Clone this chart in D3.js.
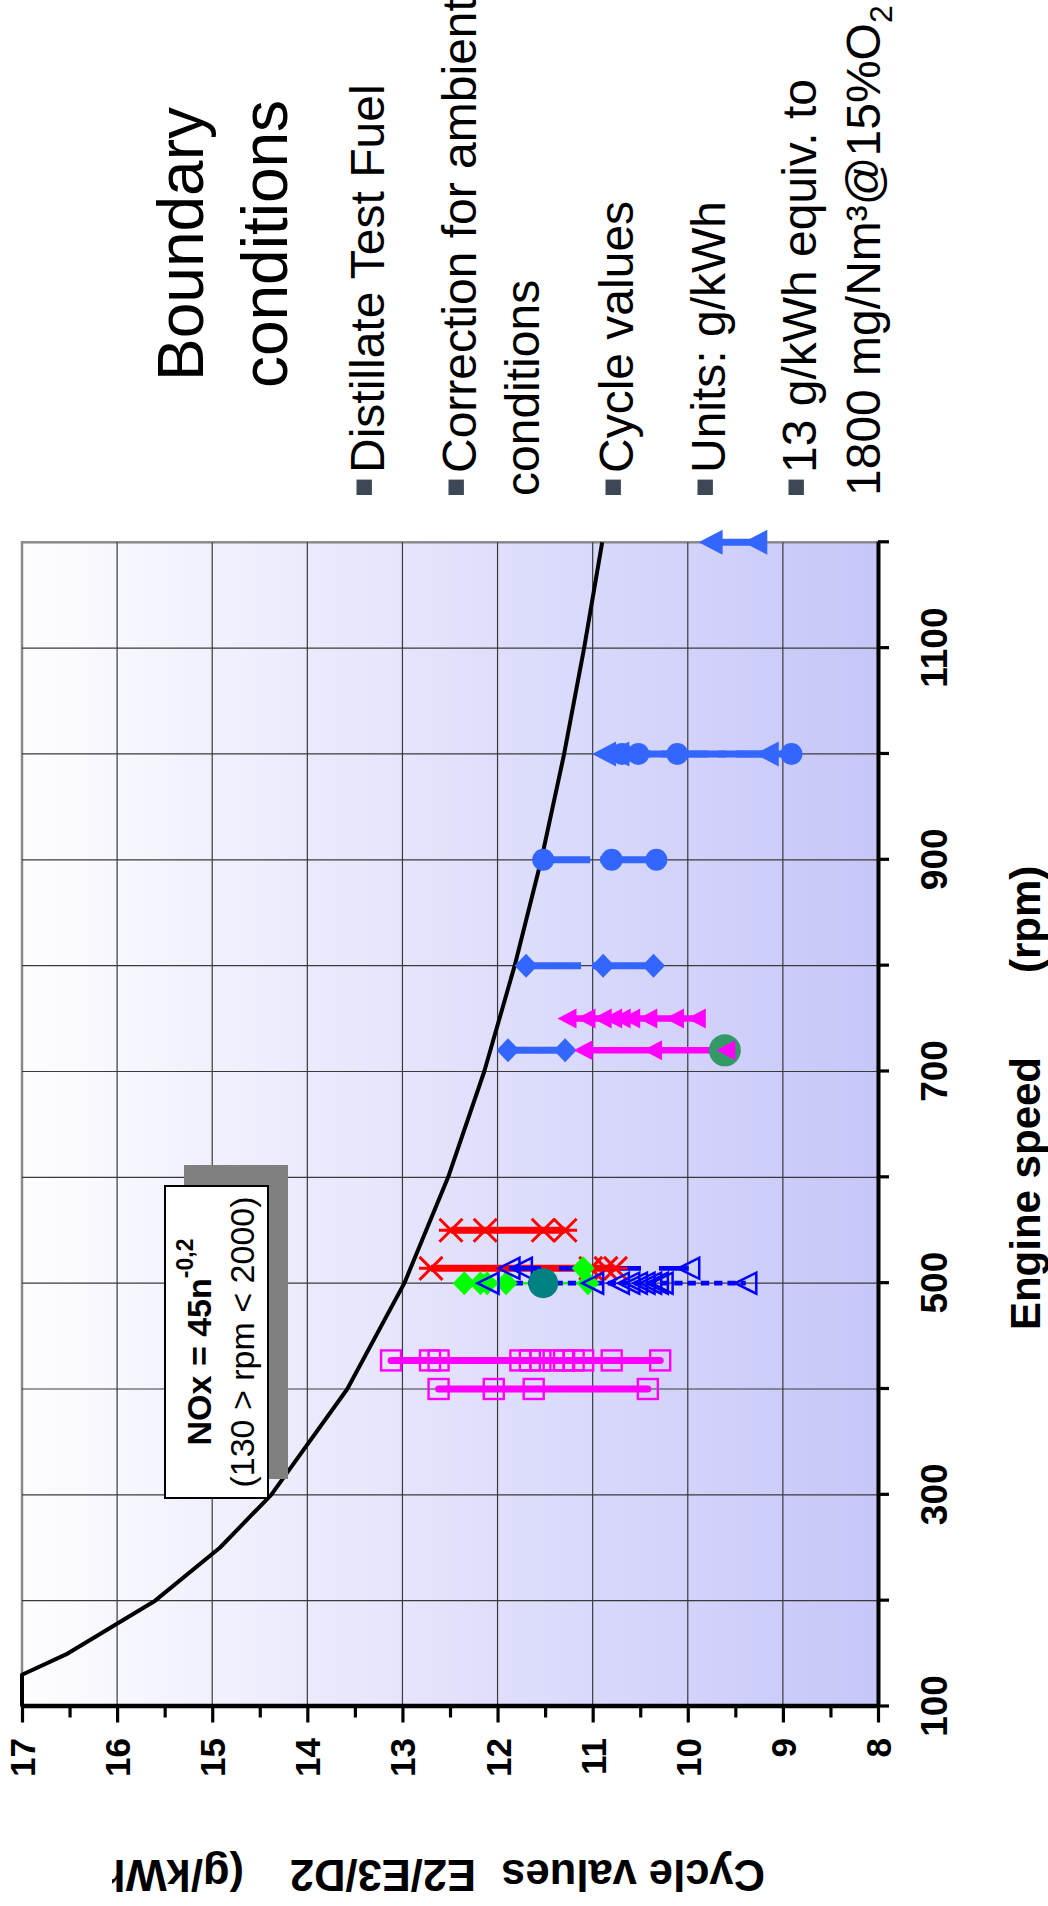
<!DOCTYPE html>
<html><head><meta charset="utf-8">
<script src="https://cdn.jsdelivr.net/npm/d3@7"></script>
<style>
html,body{margin:0;padding:0;background:#fff;}
svg{display:block;}
text{font-family:"Liberation Sans",Arial,Helvetica,sans-serif;}
</style></head><body>
<script>
// ---------------- DATA ----------------
const rpmTicks = [100,200,300,400,500,600,700,800,900,1000,1100,1200];
const rpmTickLabels = [100,300,500,700,900,1100];
const valueTicks = [8,8.5,9,9.5,10,10.5,11,11.5,12,12.5,13,13.5,14,14.5,15,15.5,16,16.5,17];
const valueTickLabels = [8,9,10,11,12,13,14,15,16,17];

// limit curve NOx = 45 n^-0.2
const curveRpm = [100,130,150,200,250,300,400,500,600,700,800,900,1000,1100,1200];
const curveNox = [17.0,17.0,16.52,15.60,14.92,14.38,13.58,12.98,12.52,12.14,11.82,11.54,11.30,11.09,10.90];

// engine groups: rated speed and cycle values
const magentaSquares400 = [12.62,12.04,11.62,10.42];
const magentaSquares427 = [13.12,12.71,12.62,11.76,11.66,11.55,11.41,11.30,11.20,11.10,10.80,10.29];
const redStars550 = [12.49,12.13,11.52,11.29];
const redStars514 = [12.70,11.02,10.86,10.76];
const greenDiamonds500 = [12.35,12.18,12.11,11.91,11.05];
const greenDiamonds514 = [11.10];
const blueOpenTri500 = [12.10,11.00,10.73,10.62,10.54,10.46,10.39,10.32,10.27,9.39];
const blueOpenTri514 = [11.88,11.75,9.99];
const tealCircle500 = [11.52];
const blueDiamonds720 = [11.89,11.29];
const blueDiamonds800 = [11.70,10.89,10.36];
const greenCircle720 = [9.61];
const magentaTri750 = [11.27,11.07,10.90,10.79,10.70,10.60,10.42,10.14,9.91];
const magentaTri720 = [11.10,10.37,9.60];
const blueCircles900 = [11.52,10.80,10.33];
const blueCircles1000 = [10.69,10.52,10.11,8.91];
const blueTri1000 = [10.88,10.74,9.17];
const blueTri1200 = [9.76,9.29];

const legendTitle = ["Boundary","conditions"];
const legendLines = ["Distillate Test Fuel","Correction for ambient","conditions","Cycle values","Units: g/kWh","13 g/kWh equiv. to","1800 mg/Nm\u00B3@15%O"];
const legendBullet = [true,true,false,true,true,true,false];
const xTitle = ["Engine speed","(rpm)"];
const yTitle = ["Cycle values","E2/E3/D2","(g/kWh"];

// ---------------- LAYOUT ----------------
const W = 1048, H = 1906;
const svg = d3.select("body").append("svg").attr("width", W).attr("height", H);
const defs = svg.append("defs");
const grad = defs.append("linearGradient").attr("id","bg").attr("x1",0).attr("y1",0).attr("x2",0).attr("y2",1);
grad.append("stop").attr("offset","0%").attr("stop-color","#fdfdff");
grad.append("stop").attr("offset","100%").attr("stop-color","#c6c6f9");
defs.append("clipPath").attr("id","ytclip").append("rect")
  .attr("x",-200).attr("y",112).attr("width",600).attr("height",1000);

// the whole chart is built in its unrotated frame and turned 90deg counter-clockwise
const g = svg.append("g").attr("transform", `translate(0,${H}) rotate(-90)`);

const x = d3.scaleLinear().domain([100,1200]).range([199.5,1363.7]);
const y = d3.scaleLinear().domain([8,17]).range([878,22]);

// plot background
g.append("rect").attr("x", x(100)).attr("y", y(17))
  .attr("width", x(1200)-x(100)).attr("height", y(8)-y(17))
  .attr("fill","url(#bg)").attr("stroke","#8a8a8a").attr("stroke-width",2.5);

// grid
g.append("g").selectAll("line").data(valueTicks.filter(v=>Number.isInteger(v) && v>8 && v<17))
  .join("line").attr("x1",x(100)).attr("x2",x(1200)).attr("y1",d=>y(d)).attr("y2",d=>y(d))
  .attr("stroke","#3a3a3a").attr("stroke-width",1.2);
g.append("g").selectAll("line").data(rpmTicks.filter(v=>v>100 && v<1200))
  .join("line").attr("y1",y(17)).attr("y2",y(8)).attr("x1",d=>x(d)).attr("x2",d=>x(d))
  .attr("stroke","#3a3a3a").attr("stroke-width",1.2);

// limit curve
const line = d3.line().x(d=>x(d[0])).y(d=>y(d[1]));
g.append("path").datum(curveRpm.map((r,i)=>[r,curveNox[i]]))
  .attr("d", line).attr("fill","none").attr("stroke","#000").attr("stroke-width",4)
  .attr("stroke-linejoin","round");

// series definitions (styles)
const BLUE = "#3366ff";
const groups = [
  {rpm:400, vals:magentaSquares400, m:"square", c:"#ff00ff", lw:7, cap:"round"},
  {rpm:427, vals:magentaSquares427, m:"square", c:"#ff00ff", lw:7, cap:"round"},
  {rpm:550, vals:redStars550, m:"star", c:"#ff0000", lw:7},
  {rpm:514, vals:redStars514, m:"star", c:"#ff0000", lw:7},
  {rpm:500, vals:greenDiamonds500, m:"diamond", c:"#00ff00", lw:2.5},
  {rpm:514, vals:greenDiamonds514, m:"diamond", c:"#00ff00", lw:2.5},
  {rpm:500, vals:blueOpenTri500, m:"otri", c:"#0000ff", lw:4.7, dash:"8.3,5"},
  {rpm:514, vals:blueOpenTri514, m:"otri", c:"#0000ff", lw:4.7, dash:"32,18"},
  {rpm:500, vals:tealCircle500, m:"circle", c:"#008080", r:15},
  {rpm:720, vals:blueDiamonds720, m:"diamond", c:BLUE, lw:7, dash:"55,11"},
  {rpm:800, vals:blueDiamonds800, m:"diamond", c:BLUE, lw:7, dash:"55,11"},
  {rpm:720, vals:greenCircle720, m:"circle", c:"#339966", r:16},
  {rpm:750, vals:magentaTri750, m:"tri", c:"#ff00ff", lw:6.5, tb:20, th:19},
  {rpm:720, vals:magentaTri720, m:"tri", c:"#ff00ff", lw:6.5, tb:20, th:19},
  {rpm:900, vals:blueCircles900, m:"circle", c:BLUE, r:11, lw:7, dash:"47,10"},
  {rpm:1000, vals:blueCircles1000, m:"circle", c:BLUE, r:11, lw:7, dash:"47,10"},
  {rpm:1000, vals:blueTri1000, m:"tri", c:BLUE, lw:7, dash:"47,10", tb:25, th:24},
  {rpm:1200, vals:blueTri1200, m:"tri", c:BLUE, lw:7, dash:"47,10", tb:25, th:24}
];

// lines first (all series), then markers
const linesG = g.append("g");
groups.filter(s=>s.vals.length>1).forEach(s=>{
  linesG.append("path").datum(s.vals.map(v=>[s.rpm,v])).attr("d", line)
    .attr("fill","none").attr("stroke", s.c).attr("stroke-width", s.lw)
    .attr("stroke-linecap", s.cap || "butt")
    .attr("stroke-dasharray", s.dash || null);
});

const markG = g.append("g");
groups.forEach(s=>{
  const sel = markG.append("g").selectAll("g").data(s.vals).join("g")
    .attr("transform", d=>`translate(${x(s.rpm)},${y(d)})`);
  if (s.m==="square") {
    sel.append("rect").attr("x",-10).attr("y",-10).attr("width",20).attr("height",20)
      .attr("fill","none").attr("stroke",s.c).attr("stroke-width",2.4);
  } else if (s.m==="star") {
    sel.append("path").attr("d","M-11.5,-11.5L11.5,11.5M-11.5,11.5L11.5,-11.5M0,-12V12")
      .attr("fill","none").attr("stroke",s.c).attr("stroke-width",3);
  } else if (s.m==="diamond") {
    sel.append("path").attr("d","M0,-11.5L12,0L0,11.5L-12,0Z").attr("fill",s.c);
  } else if (s.m==="otri") {
    sel.append("path").attr("d","M0,-10.5L10.5,10.5L-10.5,10.5Z")
      .attr("fill","none").attr("stroke",s.c).attr("stroke-width",2.5).attr("stroke-linejoin","miter");
  } else if (s.m==="tri") {
    const b=s.tb/2, h=s.th/2;
    sel.append("path").attr("d",`M0,${-h}L${b},${h}L${-b},${h}Z`).attr("fill",s.c);
  } else if (s.m==="circle") {
    sel.append("circle").attr("r",s.r).attr("fill",s.c);
  }
});

// NOx annotation box
const bx = 408, by = 165, bw = 312, bh = 103;
g.append("rect").attr("x",bx+19).attr("y",by+19).attr("width",bw+2).attr("height",bh+1).attr("fill","#808080");
g.append("rect").attr("x",bx).attr("y",by).attr("width",bw).attr("height",bh)
  .attr("fill","#fff").attr("stroke","#000").attr("stroke-width",2);
const t1 = g.append("text").attr("x",bx+bw/2).attr("y",211).attr("text-anchor","middle")
  .attr("font-size",34).attr("font-weight","bold").attr("fill","#000");
t1.append("tspan").text("NOx = 45n");
t1.append("tspan").attr("dy",-18).attr("font-size",23).text("-0,2");
g.append("text").attr("x",bx+bw/2).attr("y",254).attr("text-anchor","middle")
  .attr("font-size",34).attr("fill","#000").text("(130 > rpm < 2000)");

// axes
const xAxis = d3.axisBottom(x).tickValues(rpmTicks).tickSize(11).tickSizeOuter(0)
  .tickFormat(d => rpmTickLabels.includes(d) ? d : "");
g.append("g").attr("transform",`translate(0,${y(8)})`).call(xAxis)
  .call(a=>a.select(".domain").attr("stroke","#000").attr("stroke-width",4))
  .call(a=>a.selectAll(".tick line").attr("stroke","#000").attr("stroke-width",3.2))
  .call(a=>a.selectAll(".tick text").attr("y",69).attr("dy",0).attr("font-size",37)
      .attr("font-weight","bold").attr("fill","#000"));

const yAxis = d3.axisLeft(y).tickValues(valueTicks).tickSize(16).tickSizeOuter(0)
  .tickFormat(d => valueTickLabels.includes(d) ? d : "");
g.append("g").attr("transform",`translate(${x(100)},0)`).call(yAxis)
  .call(a=>a.select(".domain").attr("stroke","#000").attr("stroke-width",4.5))
  .call(a=>a.selectAll(".tick line").attr("stroke","#000").attr("stroke-width",3.2)
      .attr("x2", d => Number.isInteger(d) ? -16 : -11))
  .call(a=>a.selectAll(".tick text").attr("x",-31.5).attr("dy",0).attr("y",12.5)
      .attr("font-size",35).attr("font-weight","bold").attr("fill","#000"));

// axis titles
g.append("text").attr("x",849).attr("y",1040).attr("text-anchor","end")
  .attr("font-size",42).attr("font-weight","bold").attr("fill","#000").text(xTitle[0]);
g.append("text").attr("x",933).attr("y",1040).attr("text-anchor","start")
  .attr("font-size",42).attr("font-weight","bold").attr("fill","#000").text(xTitle[1]);

const yt = g.append("g").attr("clip-path","url(#ytclip)");
const ytStarts = [765, 476, 244];
yTitle.forEach((t,i)=>{
  yt.append("text").attr("transform",`translate(46,${ytStarts[i]}) rotate(-90)`)
    .attr("font-size",43.5).attr("font-weight","bold").attr("fill","#000").text(t);
});

// legend / boundary conditions text
const titleBase = [203, 287];
legendTitle.forEach((t,i)=>{
  g.append("text").attr("x",1662).attr("y",titleBase[i]).attr("text-anchor","middle")
    .attr("font-size",64).attr("fill","#000").text(t);
});
const lineBase = [384, 476, 539, 633, 725, 816, 880];
legendLines.forEach((t,i)=>{
  if (legendBullet[i]) {
    g.append("rect").attr("x",1411).attr("y",lineBase[i]-27.5).attr("width",15.4).attr("height",15.4)
      .attr("fill","#3d4756");
  }
  const tx = g.append("text").attr("x", legendBullet[i] ? 1433 : 1410).attr("y", lineBase[i])
    .attr("font-size",48).attr("fill","#000").text(t);
  if (i === legendLines.length-1) {
    tx.append("tspan").attr("dy",12).attr("font-size",32).text("2");
  }
});
</script>
</body></html>
